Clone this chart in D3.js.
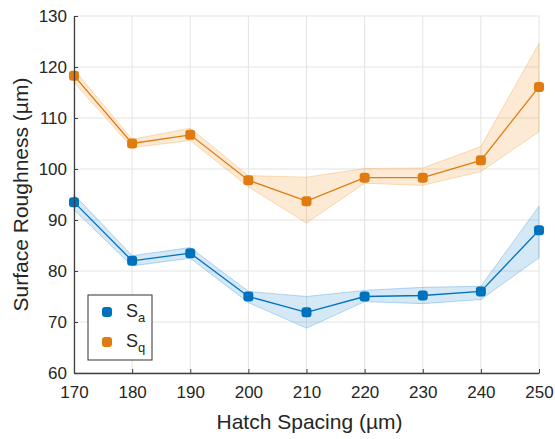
<!DOCTYPE html>
<html><head><meta charset="utf-8">
<script src="https://cdn.jsdelivr.net/npm/d3@7"></script>
<style>body{margin:0;background:#fff;} text{font-family:Arial,"Liberation Sans",sans-serif;fill:#262626;}</style>
</head><body>
<svg id="c" width="555" height="439"></svg>
<script>
const hatch = [170,180,190,200,210,220,230,240,250];
const saMean = [93.5,82,83.5,75,71.9,75,75.2,76,88];
const saLow  = [92,81,82.5,73.8,68.8,74,73.6,74.4,82.6];
const saHigh = [95,83,84.6,76,75,76.2,76.8,77,92.7];
const sqMean = [118.3,105,106.7,97.8,93.7,98.3,98.3,101.7,116.1];
const sqLow  = [117,104.2,105.6,96.5,89.4,97.2,96.8,99.5,107.3];
const sqHigh = [119.5,105.8,108,98.7,98.4,100.1,100.2,104.4,124.6];
const xTicks = [170,180,190,200,210,220,230,240,250];
const yTicks = [60,70,80,90,100,110,120,130];

const svg = d3.select("#c");
const L=74,R=539,T=16,B=373;
const x = d3.scaleLinear().domain([170,250]).range([L,R]);
const y = d3.scaleLinear().domain([60,130]).range([B,T]);

// grid
const g = svg.append("g");
g.selectAll(".gx").data(xTicks).enter().append("line")
 .attr("x1",d=>x(d)).attr("x2",d=>x(d)).attr("y1",T).attr("y2",B)
 .attr("stroke","#e3e3e3").attr("stroke-width",1);
g.selectAll(".gy").data(yTicks).enter().append("line")
 .attr("x1",L).attr("x2",R).attr("y1",d=>y(d)).attr("y2",d=>y(d))
 .attr("stroke","#e3e3e3").attr("stroke-width",1);

function series(mean,low,high,col,fill){
  const idx = d3.range(hatch.length);
  const area = d3.area().x(i=>x(hatch[i])).y0(i=>y(low[i])).y1(i=>y(high[i]));
  svg.append("path").attr("d",area(idx)).attr("fill",fill).attr("fill-opacity",0.22)
    .attr("stroke",fill).attr("stroke-opacity",0.35).attr("stroke-width",1);
  const line = d3.line().x(i=>x(hatch[i])).y(i=>y(mean[i]));
  svg.append("path").attr("d",line(idx)).attr("fill","none").attr("stroke",col).attr("stroke-width",1.3);
  svg.selectAll(null).data(idx).enter().append("rect")
    .attr("x",i=>x(hatch[i])-5).attr("y",i=>y(mean[i])-5)
    .attr("width",10).attr("height",10).attr("rx",3.2).attr("fill",col);
}
series(sqMean,sqLow,sqHigh,"#E07B10","#F0A040");
series(saMean,saLow,saHigh,"#0072BD","#3d95d8");

// axes
const xa = svg.append("g").attr("transform",`translate(0,${B})`)
 .call(d3.axisBottom(x).tickValues(xTicks).tickSize(-4).tickSizeOuter(0).tickPadding(13));
const ya = svg.append("g").attr("transform",`translate(${L},0)`)
 .call(d3.axisLeft(y).tickValues(yTicks).tickSize(-4).tickSizeOuter(0).tickPadding(7));
[xa,ya].forEach(a=>{
  a.select(".domain").attr("stroke","#404040").attr("stroke-width",1.3);
  a.selectAll(".tick line").attr("stroke","#404040");
  a.selectAll("text").attr("font-size",17).attr("fill","#404040").style("font-family","Arial,'Liberation Sans',sans-serif");
});

svg.append("text").attr("x",(L+R)/2+3).attr("y",429).attr("text-anchor","middle")
 .attr("font-size",21).text("Hatch Spacing (µm)");
svg.append("text").attr("transform",`translate(28,${(T+B)/2}) rotate(-90)`).attr("text-anchor","middle")
 .attr("font-size",21).text("Surface Roughness (µm)");

// legend
const lg = svg.append("g");
lg.append("rect").attr("x",88).attr("y",295).attr("width",64).attr("height",65)
 .attr("fill","#fff").attr("stroke","#333").attr("stroke-width",1);
const items=[{c:"#0072BD",s:"a"},{c:"#E07B10",s:"q"}];
items.forEach((it,i)=>{
  const cy = 312+i*30;
  lg.append("rect").attr("x",102).attr("y",cy-5).attr("width",10).attr("height",10).attr("rx",3).attr("fill",it.c);
  const t = lg.append("text").attr("x",126).attr("y",cy+5).attr("font-size",18);
  t.append("tspan").text("S");
  t.append("tspan").attr("dy",5).attr("font-size",13).text(it.s);
});
</script>
</body></html>
